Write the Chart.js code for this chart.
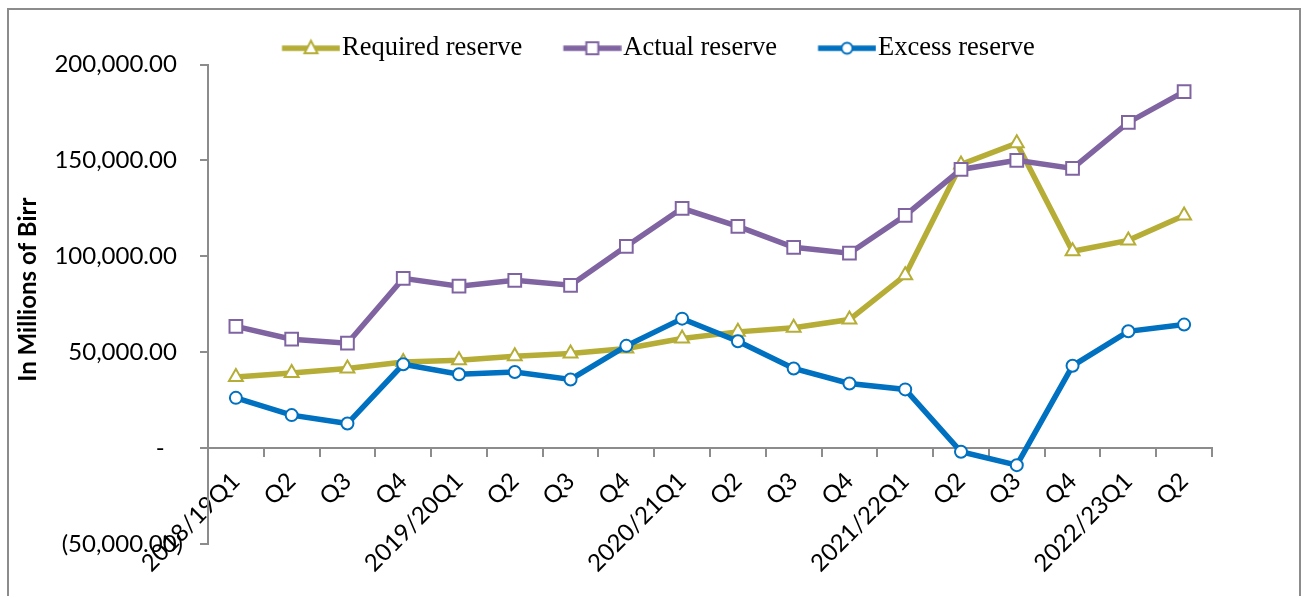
<!DOCTYPE html>
<html><head><meta charset="utf-8">
<script src="https://cdn.jsdelivr.net/npm/chart.js@4.4.1/dist/chart.umd.min.js"></script>
<style>html,body{margin:0;padding:0;background:#fff}canvas{display:block}</style>
</head><body>
<canvas id="c" width="1304" height="596"></canvas>
<script>
// ---- data ----
const categories = ['2018/19Q1','Q2','Q3','Q4','2019/20Q1','Q2','Q3','Q4','2020/21Q1','Q2','Q3','Q4','2021/22Q1','Q2','Q3','Q4','2022/23Q1','Q2'];
const requiredReserve = [37100,39200,41500,44900,45800,47900,49300,51900,57100,60600,62700,67000,90100,147900,159000,102600,108300,121300];
const actualReserve   = [63500,56800,54700,88500,84400,87500,84900,105200,125000,115600,104700,101600,121300,145300,150000,145800,169800,185900];
const excessReserve   = [26200,17200,12800,43700,38500,39700,35800,53300,67500,55700,41500,33700,30600,-1900,-8900,42900,60900,64400];
const yTicks = [-50000,0,50000,100000,150000,200000];
const seriesNames = ['Required reserve','Actual reserve','Excess reserve'];

// ---- styles ----
const C_REQ = '#B5AD36', C_ACT = '#8064A2', C_EXC = '#0070C0';
const AXIS = '#8C8C8C';
const FONT = 'Lato';
const legendFs = 26.5, legendSample = 58, legendPad = 4;
const sOff = 37;                         // sample offset inside legend box
const boxW = sOff + legendSample + 2 - legendFs/2;
const imgW = Math.ceil(2*(sOff + legendSample - boxW/2));
const imgStart = sOff - boxW/2 + imgW/2;

function legendImg(color, kind){
  const c = document.createElement('canvas');
  c.width = imgW; c.height = 24;
  const g = c.getContext('2d');
  const cy = 12;
  g.strokeStyle = color; g.lineWidth = 5.5;
  g.beginPath(); g.moveTo(imgStart, cy); g.lineTo(imgStart + legendSample, cy); g.stroke();
  const mx = imgStart + legendSample/2;
  g.fillStyle = '#fff'; g.lineWidth = 2; g.beginPath();
  if (kind === 'triangle'){ g.moveTo(mx, cy-7.5); g.lineTo(mx+6.5, cy+5); g.lineTo(mx-6.5, cy+5); g.closePath(); }
  else if (kind === 'rect'){ g.rect(mx-6, cy-6, 12, 12); }
  else { g.arc(mx, cy, 5.5, 0, Math.PI*2); }
  g.fill(); g.stroke();
  return c;
}
const legendImgs = [legendImg(C_REQ,'triangle'), legendImg(C_ACT,'rect'), legendImg(C_EXC,'circle')];

function fmt(v){ return Math.abs(v).toLocaleString('en-US',{minimumFractionDigits:2,maximumFractionDigits:2}); }

const framePlugin = {
  id:'frame',
  beforeDraw(chart){
    const ctx = chart.ctx; ctx.save();
    ctx.strokeStyle = AXIS; ctx.lineWidth = 2;
    ctx.strokeRect(8, 9, 1292, 600);
    ctx.restore();
  }
};
const legendShift = {
  id:'legendShift',
  afterLayout(chart){
    const lg = chart.legend; if (!lg) return;
    const ctx = chart.ctx; ctx.save();
    ctx.font = legendFs + 'px "Liberation Serif"';
    let row = 0;
    lg.legendItems.forEach(it => { row += boxW + legendFs/2 + ctx.measureText(it.text).width + legendPad; });
    ctx.restore();
    const x0 = (lg.left + legendPad + lg.right - row)/2;
    const dx = 282 - sOff - x0;
    const dy = 31 - lg.top;
    lg.left += dx; lg.right += dx; lg.top += dy; lg.bottom += dy;
  }
};

new Chart(document.getElementById('c'), {
  type:'line',
  data:{
    labels: categories,
    datasets:[
      {label:seriesNames[0], data:requiredReserve, borderColor:C_REQ, backgroundColor:C_REQ, borderWidth:5.5,
       pointStyle:'triangle', pointRadius:8, pointBackgroundColor:'#fff', pointBorderColor:C_REQ, pointBorderWidth:2, order:2},
      {label:seriesNames[1], data:actualReserve, borderColor:C_ACT, backgroundColor:C_ACT, borderWidth:5.5,
       pointStyle:'rect', pointRadius:9, pointBackgroundColor:'#fff', pointBorderColor:C_ACT, pointBorderWidth:2, order:1},
      {label:seriesNames[2], data:excessReserve, borderColor:C_EXC, backgroundColor:C_EXC, borderWidth:5.5,
       pointStyle:'circle', pointRadius:6, pointBackgroundColor:'#fff', pointBorderColor:C_EXC, pointBorderWidth:2, order:0}
    ]
  },
  options:{
    responsive:false, animation:false, devicePixelRatio:1,
    layout:{padding:{left:8, right:92, top:24, bottom:52}},
    plugins:{
      tooltip:{enabled:false},
      legend:{
        display:true, position:'top',
        labels:{
          usePointStyle:true, pointStyleWidth:boxW, boxHeight:legendFs, padding:legendPad,
          color:'#000', font:{family:'"Liberation Serif"', size:legendFs},
          sort:(a,b)=>a.datasetIndex-b.datasetIndex,
          generateLabels(chart){
            const items = Chart.defaults.plugins.legend.labels.generateLabels(chart);
            items.forEach(it => { it.pointStyle = legendImgs[it.datasetIndex]; });
            return items;
          }
        }
      }
    },
    scales:{
      x:{
        type:'category', position:{y:0}, offset:true,
        grid:{offset:true, drawOnChartArea:false, drawTicks:true, tickLength:8, color:AXIS, lineWidth:2},
        border:{display:true, color:AXIS, width:2},
        ticks:{autoSkip:false, minRotation:45, maxRotation:45, padding:11, color:'#000', font:{family:FONT, size:24}}
      },
      y:{
        position:'left', min:-50000, max:200000,
        afterBuildTicks(s){ s.ticks = yTicks.map(v=>({value:v})); },
        afterFit(s){ s.width = 200; },
        grid:{drawOnChartArea:false, drawTicks:true, tickLength:8, color:AXIS, lineWidth:2},
        border:{display:true, color:AXIS, width:2},
        ticks:{padding:17, color:'#000', font:{family:FONT, size:24},
          callback(v){ if (v === 0) return '-   '; return v < 0 ? '(' + fmt(v) + ')' : fmt(v) + ' '; }},
        title:{display:true, text:'     In Millions of Birr', color:'#000', font:{family:FONT, size:24, weight:'bold'}, padding:{top:6, bottom:0}}
      }
    }
  },
  plugins:[framePlugin, legendShift]
});
</script>
</body></html>
